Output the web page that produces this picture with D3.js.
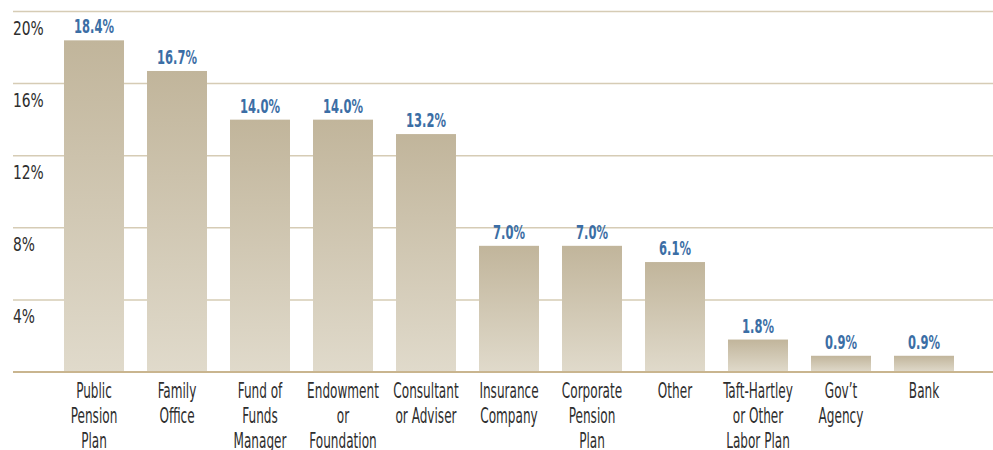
<!DOCTYPE html>
<meta charset="utf-8">
<style>
body { margin: 0; background: #fff; }
text { font-family: "DejaVu Sans Condensed", "Liberation Sans Narrow", sans-serif; }
.value { font-weight: bold; fill: #3b6ea5; }
.tick-label { fill: #2e2e2e; }
.cat-label { fill: #2e2e2e; }
</style>
<svg width="993" height="450"></svg>
<script src="https://d3js.org/d3.v7.min.js"></script>
<script>

// investor types (lines of each label split by "|")
var categories = ["Public|Pension|Plan", "Family|Office", "Fund of|Funds|Manager", "Endowment|or|Foundation",
  "Consultant|or Adviser", "Insurance|Company", "Corporate|Pension|Plan", "Other",
  "Taft-Hartley|or Other|Labor Plan", "Gov\u2019t|Agency", "Bank"];
var values = [18.4, 16.7, 14.0, 14.0, 13.2, 7.0, 7.0, 6.1, 1.8, 0.9, 0.9];
var yTicks = [4, 8, 12, 16, 20];

var svg = d3.select("svg");

var x = d3.scaleBand()
  .domain(d3.range(categories.length))
  .range([64, 954])
  .paddingInner(23 / 83)
  .paddingOuter(0);

var y = d3.scaleLinear()
  .domain([0, 20])
  .range([372, 11.5]);

// gradient for the bars
var grad = svg.append("defs").append("linearGradient")
  .attr("id", "barGrad")
  .attr("x1", 0).attr("y1", 0).attr("x2", 0).attr("y2", 1);
grad.append("stop").attr("offset", "0%").attr("stop-color", "#c1b59b");
grad.append("stop").attr("offset", "100%").attr("stop-color", "#e0dacb");

// gridlines
svg.append("g").selectAll("line")
  .data(yTicks)
  .join("line")
  .attr("x1", 13).attr("x2", 993)
  .attr("y1", function(d) { return y(d); })
  .attr("y2", function(d) { return y(d); })
  .attr("stroke", "#d6ccb5")
  .attr("stroke-width", 1.5);

// y labels, sitting under each gridline
svg.append("g").selectAll("text")
  .data(yTicks)
  .join("text")
  .attr("class", "tick-label")
  .attr("transform", function(d) { return "translate(13," + (y(d) + 23.5) + ") scale(0.77,1)"; })
  .style("font-size", "20px")
  .text(function(d) { return d + "%"; });

// bars
svg.append("g").selectAll("rect")
  .data(values)
  .join("rect")
  .attr("x", function(d, i) { return x(i); })
  .attr("y", function(d) { return y(d); })
  .attr("width", x.bandwidth())
  .attr("height", function(d) { return y(0) - y(d); })
  .attr("fill", "url(#barGrad)");

// baseline
svg.append("line")
  .attr("x1", 13).attr("x2", 993)
  .attr("y1", y(0)).attr("y2", y(0))
  .attr("stroke", "#c9b58f")
  .attr("stroke-width", 2);

// value labels
svg.append("g").selectAll("text")
  .data(values)
  .join("text")
  .attr("class", "value")
  .attr("text-anchor", "middle")
  .attr("transform", function(d, i) {
    return "translate(" + (x(i) + x.bandwidth() / 2) + "," + (y(d) - 7) + ") scale(0.64,1)";
  })
  .style("font-size", "20px")
  .text(function(d) { return d.toFixed(1) + "%"; });

// category labels
var cat = svg.append("g").selectAll("text")
  .data(categories)
  .join("text")
  .attr("class", "cat-label")
  .attr("text-anchor", "middle")
  .attr("transform", function(d, i) {
    return "translate(" + (x(i) + x.bandwidth() / 2) + ",398) scale(0.61,1)";
  })
  .style("font-size", "22px");

cat.selectAll("tspan")
  .data(function(d) { return d.split("|"); })
  .join("tspan")
  .attr("x", 0)
  .attr("y", function(d, j) { return j * 25; })
  .text(function(d) { return d; });

</script>
